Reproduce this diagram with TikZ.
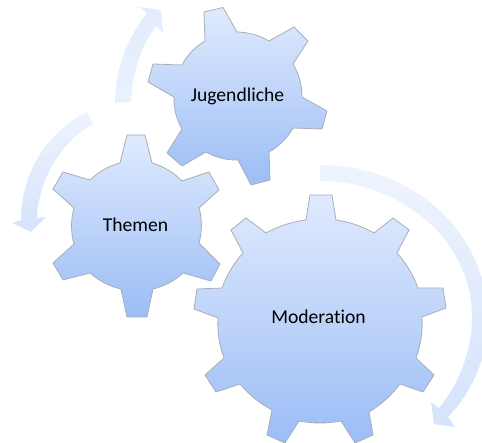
\documentclass[tikz,border=0pt]{standalone}
\usepackage{fontspec}
\setmainfont[Ligatures=NoCommon]{Carlito}
\definecolor{gtop}{HTML}{DFEAFD}
\definecolor{gbot}{HTML}{9CBDF6}
\definecolor{gline}{HTML}{A8AEB9}
\definecolor{flowa}{HTML}{EEF4FE}
\definecolor{flowb}{HTML}{D5E3FC}
\definecolor{flowc}{HTML}{E2ECFD}
\definecolor{flowd}{HTML}{EAF1FE}
\tikzset{
  gear/.style={draw=gline,line width=0.8pt,line join=round,top color=gtop,bottom color=gbot},
  lab/.style={font=\fontsize{19.6}{22}\selectfont,text=black,inner sep=0pt},
  b/.style={bend left=#1,looseness=.85}
}
\begin{document}
\begin{tikzpicture}[x=1pt,y=-1pt]
\useasboundingbox (0,0) rectangle (482,443);
\begin{scope}
\clip (0,0) rectangle (482,443);
% curved arrows
\path[top color=flowa,bottom color=flowb]
  (320,165) .. controls (415,165) and (488,235) .. (488,320)
  .. controls (488,358) and (470,395) .. (448,417)
  -- (455,427) -- (434,424) -- (431,402) -- (439,408)
  .. controls (458,385) and (472,352) .. (472,317)
  .. controls (472,240) and (400,181) .. (320,181) -- cycle;
\path[top color=flowc,bottom color=flowd]
  (115,103) .. controls (115,70) and (127,38) .. (147,13)
  -- (139,7) -- (161,10) -- (163,33) -- (156,26)
  .. controls (141,47) and (132,72) .. (131,102) -- cycle;
\path[top color=flowa,bottom color=flowb]
  (87,112) .. controls (50,130) and (21,170) .. (21,220)
  -- (12,223) -- (31,232) -- (46,217) -- (37,218)
  .. controls (38,182) and (60,142) .. (93,124) -- cycle;
% gears
\path[gear]
  (204,12) -- (223,7.5) -- (237,32) to[b=15] (269,41)
  -- (294,27) -- (308,41) -- (293,64) to[b=16] (302,97)
  -- (327,111) -- (322,129) -- (293,128) to[b=16] (269,152)
  -- (270,180) -- (251,185) -- (238,160) to[b=16] (206,152)
  -- (182,166) -- (167,153) -- (182,129) to[b=16] (174,97)
  -- (148,82) -- (153,64) -- (182,65) to[b=16] (205,41) -- cycle;
\path[gear]
  (120,163) -- (127,135) -- (145,135) -- (152,163) to[b=15] (182,181)
  -- (209,172) -- (219,190) -- (199,208) to[b=16] (199,243)
  -- (220,264) -- (211,281) -- (183,273) to[b=15] (153,289)
  -- (147,317) -- (127,317) -- (121,289) to[b=15] (90,273)
  -- (63,280) -- (53,263) -- (74,244) to[b=16] (74,208)
  -- (53,189) -- (63,172) -- (90,180) to[b=15] cycle;
\path[gear]
  (306,220) -- (310,195) -- (332,195) -- (336,220) to[b=11] (374,233)
  -- (393,218) -- (409,230) -- (397,253) to[b=11] (418,288)
  -- (443,288) -- (446,308) -- (422,317) to[b=12] (416,358)
  -- (434,375) -- (423,392) -- (400,384) to[b=11] (369,412)
  -- (373,435) -- (355,443) -- (341,421) to[b=11] (299,421)
  -- (285,443) -- (267,435) -- (272,410) to[b=11] (240,384)
  -- (216,392) -- (205,375) -- (224,358) to[b=12] (218,318)
  -- (194,309) -- (197,289) -- (222,288) to[b=11] (243,253)
  -- (231,230) -- (246,218) -- (266,233) to[b=11] cycle;
\end{scope}
\node[lab] (jugend) at (237.5,96) {Jugendliche};
\node[lab] (themen) at (135.5,225) {Themen};
\node[lab] (moder) at (318.5,317) {Moderation};
\end{tikzpicture}
\end{document}
